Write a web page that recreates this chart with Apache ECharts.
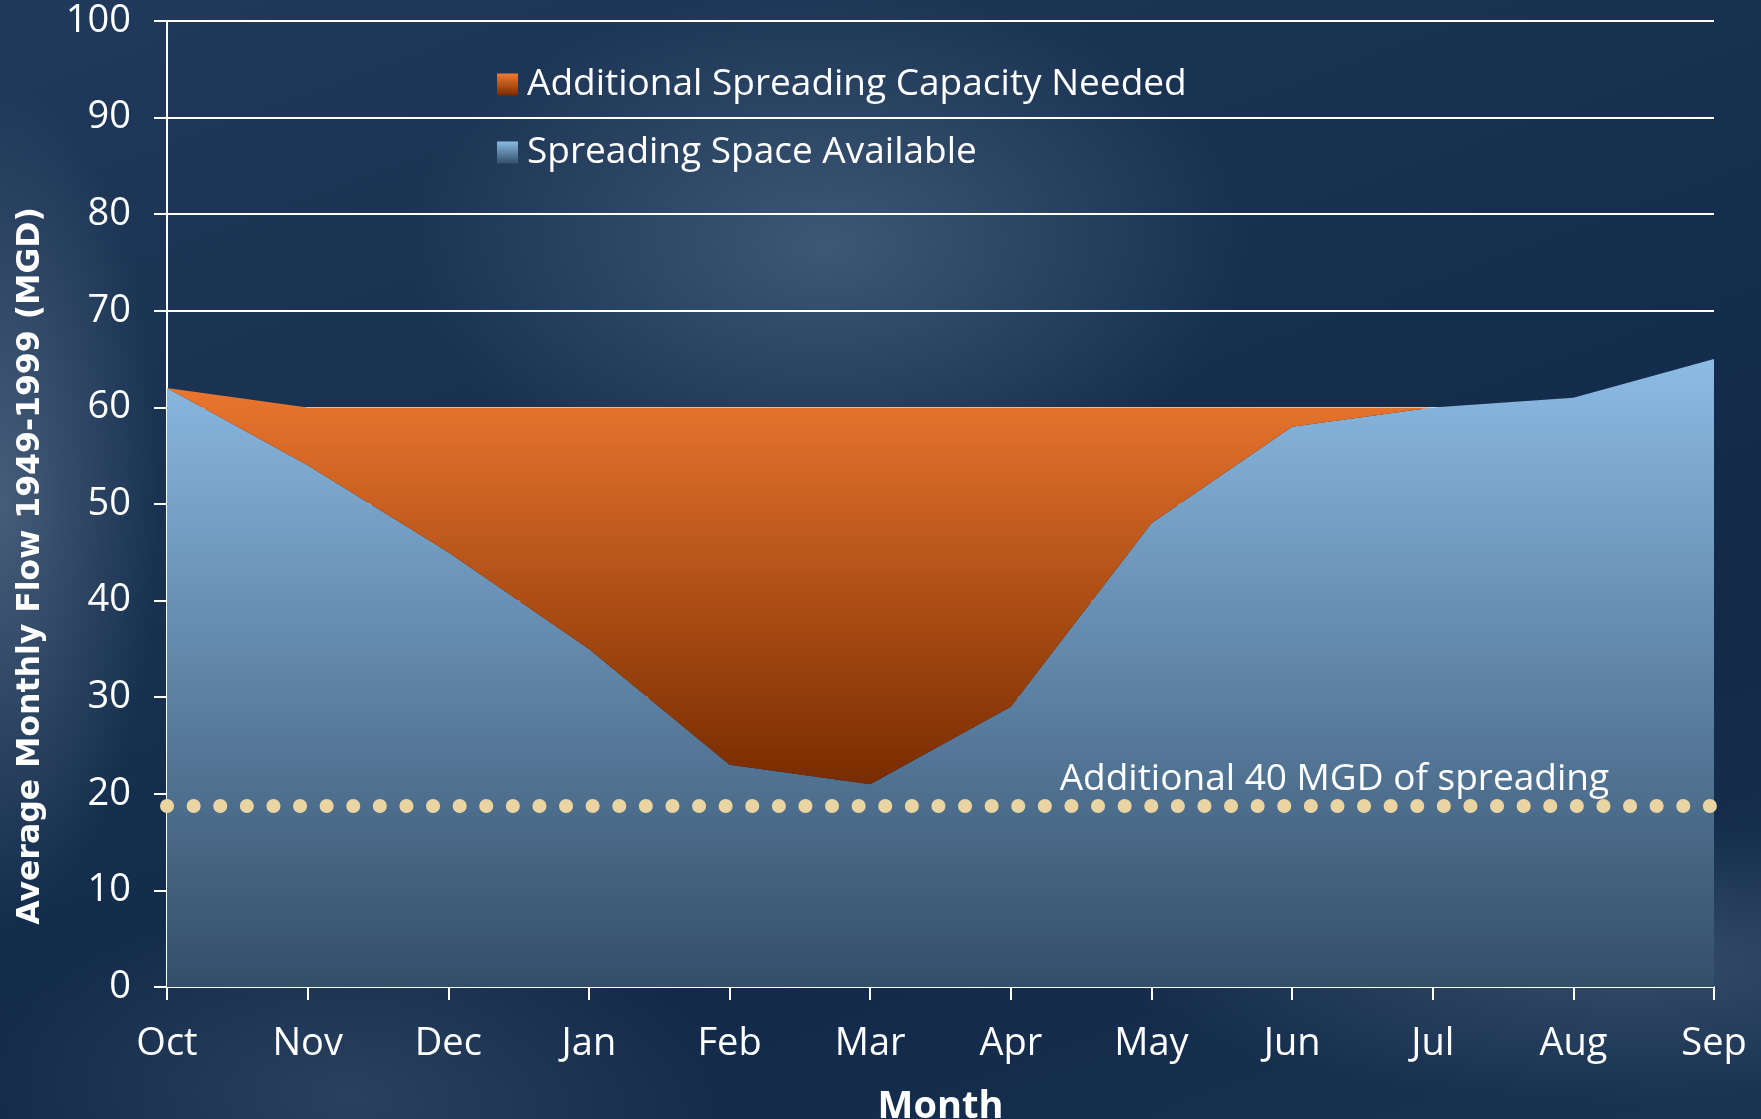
<!DOCTYPE html>
<html>
<head>
<meta charset="utf-8">
<script src="https://cdn.jsdelivr.net/npm/echarts@6/dist/echarts.min.js"></script>
<style>
  html, body { margin: 0; padding: 0; width: 1761px; height: 1119px; overflow: hidden; }
  body {
    background:
      radial-gradient(ellipse 420px 260px at 47% 22%, rgba(90,118,148,0.55), rgba(90,118,148,0) 100%),
      radial-gradient(ellipse 160px 420px at 0% 45%, rgba(88,112,138,0.7), rgba(88,112,138,0) 100%),
      radial-gradient(ellipse 500px 140px at 92% 86%, rgba(80,105,130,0.5), rgba(80,105,130,0) 100%),
      radial-gradient(ellipse 380px 200px at 20% 98%, rgba(70,95,120,0.45), rgba(70,95,120,0) 100%),
      linear-gradient(160deg, #21395a 0%, #17304f 40%, #12294a 70%, #1a3352 100%);
  }
  #chart { width: 1761px; height: 1119px; }
</style>
</head>
<body>
<div id="chart"></div>
<script>
// months on the x axis
const months = ['Oct', 'Nov', 'Dec', 'Jan', 'Feb', 'Mar', 'Apr', 'May', 'Jun', 'Jul', 'Aug', 'Sep'];
// average monthly flow (blue area)
const spaceAvailable = [62, 54, 45, 35, 23, 21, 29, 48, 58, 60, 61, 65];
// shortfall up to 60 MGD (orange area, stacked on the blue)
const capacityNeeded = [0, 6, 15, 25, 37, 39, 31, 12, 2, 0, 0, 0];
// dotted reference level
const spreadingLevel = 18.8;
const spreadingText = 'Additional 40 MGD of spreading';

const FONT = "'Open Sans', sans-serif";

const blueFill = new echarts.graphic.LinearGradient(0, 0, 0, 1, [
  { offset: 0, color: '#8cbbe4' },
  { offset: 1, color: '#334e69' }
]);
const orangeFill = new echarts.graphic.LinearGradient(0, 0, 0, 1, [
  { offset: 0, color: '#f27b32' },
  { offset: 1, color: '#782c00' }
]);

const chart = echarts.init(document.getElementById('chart'));
chart.setOption({
  backgroundColor: 'transparent',
  animation: false,
  grid: { left: 167, right: 47, top: 21, bottom: 132, containLabel: false, outerBoundsMode: 'none' },
  legend: {
    orient: 'vertical',
    left: 492,
    top: 61,
    icon: 'rect',
    itemWidth: 21,
    itemHeight: 22,
    itemGap: 31,
    textStyle: { color: '#ffffff', fontSize: 37, fontFamily: FONT, padding: [0, 0, 0, 4] },
    data: [
      { name: 'Additional Spreading Capacity Needed', itemStyle: { color: orangeFill } },
      { name: 'Spreading Space Available', itemStyle: { color: blueFill } }
    ]
  },
  xAxis: {
    type: 'category',
    data: months,
    boundaryGap: false,
    name: 'Month',
    nameLocation: 'middle',
    nameGap: 101,
    nameTextStyle: { color: '#ffffff', fontSize: 38, fontWeight: 'bold', fontFamily: FONT },
    axisLine: { lineStyle: { color: '#ffffff', width: 2 } },
    axisTick: { length: 13, lineStyle: { color: '#ffffff', width: 2 } },
    axisLabel: { color: '#ffffff', fontSize: 38, fontFamily: FONT, margin: 38 },
    splitLine: { show: false }
  },
  yAxis: {
    type: 'value',
    min: 0,
    max: 100,
    interval: 10,
    name: 'Average Monthly Flow 1949-1999 (MGD)',
    nameLocation: 'middle',
    nameGap: 120,
    nameRotate: 90,
    nameTextStyle: { color: '#ffffff', fontSize: 31.5, fontWeight: 'bold', fontFamily: "'DejaVu Sans', sans-serif", padding: [0, 124, 0, 0] },
    axisLine: { show: true, lineStyle: { color: '#ffffff', width: 2 } },
    axisTick: { show: true, length: 13, lineStyle: { color: '#ffffff', width: 2 } },
    axisLabel: { color: '#ffffff', fontSize: 38, fontFamily: FONT, margin: 36 },
    splitLine: { lineStyle: { color: '#ffffff', width: 2 } }
  },
  series: [
    {
      name: 'Spreading Space Available',
      type: 'line',
      stack: 'flow',
      data: spaceAvailable,
      showSymbol: false,
      lineStyle: { width: 0 },
      itemStyle: { color: blueFill },
      areaStyle: { color: blueFill, opacity: 1 },
      z: 2,
      markLine: {
        silent: true,
        symbol: 'none',
        data: [{ yAxis: spreadingLevel }],
        lineStyle: { color: '#e9d4a2', width: 14, type: [0.1, 26.5], cap: 'round' },
        label: {
          show: true,
          position: 'insideEndTop',
          formatter: spreadingText,
          color: '#ffffff',
          fontSize: 37,
          fontFamily: FONT,
          padding: [0, 100, 2, 0]
        }
      }
    },
    {
      name: 'Additional Spreading Capacity Needed',
      type: 'line',
      stack: 'flow',
      data: capacityNeeded,
      showSymbol: false,
      lineStyle: { width: 0 },
      itemStyle: { color: orangeFill },
      areaStyle: { color: orangeFill, opacity: 1 },
      z: 2
    }
  ]
});
</script>
</body>
</html>
